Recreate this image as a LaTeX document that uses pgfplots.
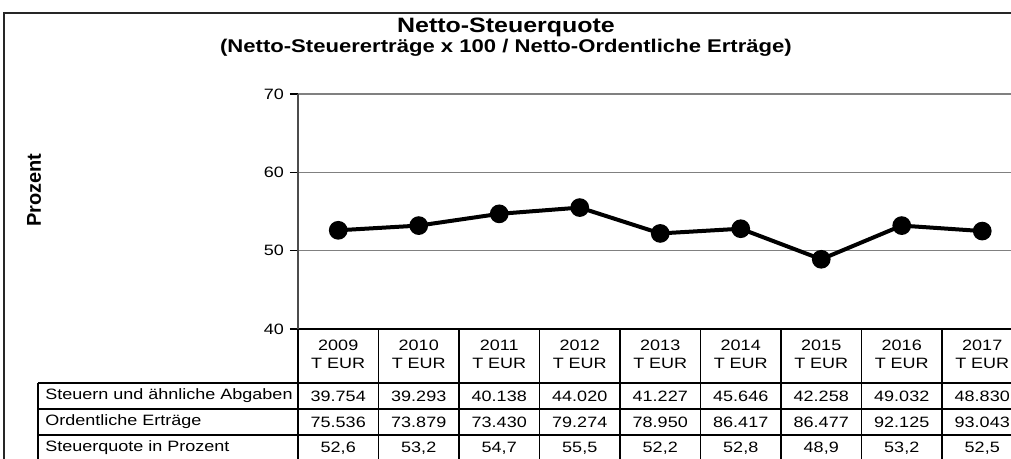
\documentclass[border=0pt]{standalone}
\usepackage{fontspec}
\setmainfont{Liberation Sans}[FakeStretch=1.2]
\newfontfamily\plainfont{Liberation Sans}
\usepackage{pgfplots}
\pgfplotsset{compat=1.18}
\usepackage{pgfplotstable}

\pgfplotstableread{
x quote
0 52.6
1 53.2
2 54.7
3 55.5
4 52.2
5 52.8
6 48.9
7 53.2
8 52.5
}\quotetable

\newcommand\tabfont{\fontsize{11.25}{13}\selectfont}

\begin{document}
\begin{tikzpicture}
\useasboundingbox (-223.5pt,-97.5pt) rectangle (534.75pt,246.75pt);
\clip (-223.5pt,-97.5pt) rectangle (534.75pt,246.75pt);
\draw[line width=1.5pt, black!85] (-220.5pt,-130pt) rectangle (570pt,237pt);
\node[font=\bfseries\fontsize{15.6}{18}\selectfont] at (156pt,226.5pt) {Netto-Steuerquote};
\node[font=\bfseries\fontsize{13.8}{16}\selectfont] at (156pt,210.75pt) {(Netto-Steuererträge x 100 / Netto-Ordentliche Erträge)};
\node[font=\plainfont\bfseries\fontsize{15}{18}\selectfont, rotate=90] at (-198pt,104pt) {Prozent};
\begin{axis}[
  at={(0pt,0pt)}, anchor=south west,
  scale only axis, width=543.375pt, height=176.25pt,
  xmin=-0.5, xmax=8.5, ymin=40, ymax=70,
  xtick=\empty, ytick={40,50,60,70},
  ymajorgrids, grid style={gray, line width=1.1pt},
  axis x line*=bottom, axis y line*=left,
  x axis line style={black, line width=1.5pt, -},
  y axis line style={black!70, line width=1.5pt, -},
  tick align=outside, major tick length=6pt,
  tick style={black, line width=0.8pt},
  yticklabel style={font=\tabfont, xshift=-1pt},
  /pgf/number format/assume math mode=true,
  clip=false,
]
\addplot[black, line width=3pt, mark=*, mark size=5.5pt, mark options={solid}] table[x=x,y=quote]{\quotetable};
\end{axis}
% data table
\foreach \k in {0,...,9} \draw[line width=0.8pt] ({\k*60.375pt},0pt) -- ({\k*60.375pt},-99pt);
\draw[line width=0.8pt] (-195pt,-40.5pt) -- (-195pt,-99pt);
\foreach \yy in {40.5,60,79.5,99} \draw[line width=0.8pt] (-195pt,-\yy pt) -- (570pt,-\yy pt);
\foreach \i/\yr/\s/\o/\q in {0/2009/39.754/75.536/{52,6},1/2010/39.293/73.879/{53,2},2/2011/40.138/73.430/{54,7},3/2012/44.020/79.274/{55,5},4/2013/41.227/78.950/{52,2},5/2014/45.646/86.417/{52,8},6/2015/42.258/86.477/{48,9},7/2016/49.032/92.125/{53,2},8/2017/48.830/93.043/{52,5}}{
  \node[font=\tabfont] at ({\i*60.375pt+30.1875pt},-12pt) {\yr};
  \node[font=\tabfont] at ({\i*60.375pt+30.1875pt},-25.5pt) {T EUR};
  \node[font=\tabfont] at ({\i*60.375pt+30.1875pt},-50.25pt) {\s};
  \node[font=\tabfont] at ({\i*60.375pt+30.1875pt},-69.75pt) {\o};
  \node[font=\tabfont] at ({\i*60.375pt+30.1875pt},-89.25pt) {\q};
}
\node[font=\tabfont, anchor=west] at (-193pt,-50.25pt) {Steuern und ähnliche Abgaben};
\node[font=\tabfont, anchor=west] at (-193pt,-69.75pt) {Ordentliche Erträge};
\node[font=\tabfont, anchor=west] at (-193pt,-89.25pt) {Steuerquote in Prozent};
\end{tikzpicture}
\end{document}
